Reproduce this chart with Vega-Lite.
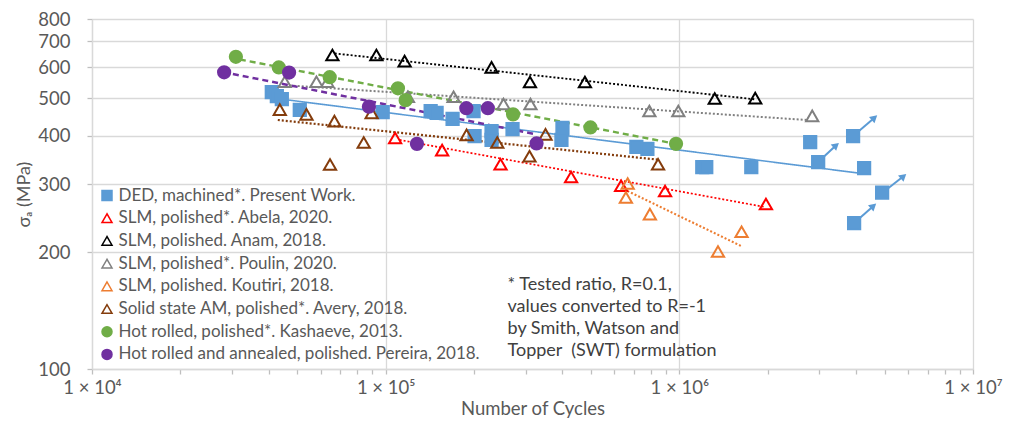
{
  "$schema": "https://vega.github.io/schema/vega-lite/v6.json",
  "width": 881,
  "height": 350,
  "autosize": "none",
  "padding": {"left": 92, "top": 19, "right": 43, "bottom": 56},
  "background": "white",
  "config": {"view": {"stroke": null}, "font": "Lato"},
  "datasets": {
    "points": [
      {"s": "DED, machined*. Present Work.", "N": 40950, "S": 518},
      {"s": "DED, machined*. Present Work.", "N": 42600, "S": 506},
      {"s": "DED, machined*. Present Work.", "N": 44300, "S": 497},
      {"s": "DED, machined*. Present Work.", "N": 51000, "S": 466},
      {"s": "DED, machined*. Present Work.", "N": 97700, "S": 460},
      {"s": "DED, machined*. Present Work.", "N": 142300, "S": 463},
      {"s": "DED, machined*. Present Work.", "N": 149100, "S": 458},
      {"s": "DED, machined*. Present Work.", "N": 169000, "S": 442},
      {"s": "DED, machined*. Present Work.", "N": 199200, "S": 463},
      {"s": "DED, machined*. Present Work.", "N": 200800, "S": 399},
      {"s": "DED, machined*. Present Work.", "N": 229400, "S": 411},
      {"s": "DED, machined*. Present Work.", "N": 229400, "S": 390},
      {"s": "DED, machined*. Present Work.", "N": 270400, "S": 416},
      {"s": "DED, machined*. Present Work.", "N": 400000, "S": 419},
      {"s": "DED, machined*. Present Work.", "N": 396800, "S": 390},
      {"s": "DED, machined*. Present Work.", "N": 714000, "S": 374},
      {"s": "DED, machined*. Present Work.", "N": 778500, "S": 370},
      {"s": "DED, machined*. Present Work.", "N": 1197000, "S": 332},
      {"s": "DED, machined*. Present Work.", "N": 1235000, "S": 332},
      {"s": "DED, machined*. Present Work.", "N": 1758000, "S": 332},
      {"s": "DED, machined*. Present Work.", "N": 2790000, "S": 385},
      {"s": "DED, machined*. Present Work.", "N": 2970000, "S": 342},
      {"s": "DED, machined*. Present Work.", "N": 3906000, "S": 399},
      {"s": "DED, machined*. Present Work.", "N": 3937000, "S": 238},
      {"s": "DED, machined*. Present Work.", "N": 4258000, "S": 330},
      {"s": "DED, machined*. Present Work.", "N": 4904000, "S": 285},
      {"s": "SLM, polished*. Abela, 2020.", "N": 107700, "S": 394.5},
      {"s": "SLM, polished*. Abela, 2020.", "N": 155700, "S": 367},
      {"s": "SLM, polished*. Abela, 2020.", "N": 246100, "S": 337.5},
      {"s": "SLM, polished*. Abela, 2020.", "N": 428000, "S": 313},
      {"s": "SLM, polished*. Abela, 2020.", "N": 633500, "S": 297},
      {"s": "SLM, polished*. Abela, 2020.", "N": 894000, "S": 288},
      {"s": "SLM, polished*. Abela, 2020.", "N": 1972000, "S": 266.5},
      {"s": "SLM, polished. Anam, 2018.", "N": 65860, "S": 646},
      {"s": "SLM, polished. Anam, 2018.", "N": 92980, "S": 646},
      {"s": "SLM, polished. Anam, 2018.", "N": 116000, "S": 623},
      {"s": "SLM, polished. Anam, 2018.", "N": 229400, "S": 600},
      {"s": "SLM, polished. Anam, 2018.", "N": 310000, "S": 550},
      {"s": "SLM, polished. Anam, 2018.", "N": 477000, "S": 550},
      {"s": "SLM, polished. Anam, 2018.", "N": 1320000, "S": 499},
      {"s": "SLM, polished. Anam, 2018.", "N": 1813000, "S": 500},
      {"s": "SLM, polished*. Poulin, 2020.", "N": 45330, "S": 551},
      {"s": "SLM, polished*. Poulin, 2020.", "N": 58110, "S": 551},
      {"s": "SLM, polished*. Poulin, 2020.", "N": 63340, "S": 551},
      {"s": "SLM, polished*. Poulin, 2020.", "N": 119100, "S": 504},
      {"s": "SLM, polished*. Poulin, 2020.", "N": 170300, "S": 504},
      {"s": "SLM, polished*. Poulin, 2020.", "N": 251900, "S": 483},
      {"s": "SLM, polished*. Poulin, 2020.", "N": 311200, "S": 483},
      {"s": "SLM, polished*. Poulin, 2020.", "N": 790700, "S": 463},
      {"s": "SLM, polished*. Poulin, 2020.", "N": 992000, "S": 463},
      {"s": "SLM, polished*. Poulin, 2020.", "N": 2835000, "S": 450},
      {"s": "SLM, polished. Koutiri, 2018.", "N": 667000, "S": 301},
      {"s": "SLM, polished. Koutiri, 2018.", "N": 657700, "S": 277},
      {"s": "SLM, polished. Koutiri, 2018.", "N": 793800, "S": 251},
      {"s": "SLM, polished. Koutiri, 2018.", "N": 1629000, "S": 226},
      {"s": "SLM, polished. Koutiri, 2018.", "N": 1354000, "S": 201},
      {"s": "Solid state AM, polished*. Avery, 2018.", "N": 43600, "S": 467},
      {"s": "Solid state AM, polished*. Avery, 2018.", "N": 53740, "S": 454},
      {"s": "Solid state AM, polished*. Avery, 2018.", "N": 66910, "S": 436},
      {"s": "Solid state AM, polished*. Avery, 2018.", "N": 64640, "S": 337},
      {"s": "Solid state AM, polished*. Avery, 2018.", "N": 84190, "S": 384},
      {"s": "Solid state AM, polished*. Avery, 2018.", "N": 89600, "S": 458},
      {"s": "Solid state AM, polished*. Avery, 2018.", "N": 188600, "S": 402},
      {"s": "Solid state AM, polished*. Avery, 2018.", "N": 239900, "S": 384},
      {"s": "Solid state AM, polished*. Avery, 2018.", "N": 308900, "S": 354},
      {"s": "Solid state AM, polished*. Avery, 2018.", "N": 350200, "S": 403},
      {"s": "Solid state AM, polished*. Avery, 2018.", "N": 846300, "S": 337.5},
      {"s": "Hot rolled, polished*. Kashaeve, 2013.", "N": 30900, "S": 639},
      {"s": "Hot rolled, polished*. Kashaeve, 2013.", "N": 43260, "S": 600},
      {"s": "Hot rolled, polished*. Kashaeve, 2013.", "N": 64490, "S": 566},
      {"s": "Hot rolled, polished*. Kashaeve, 2013.", "N": 110100, "S": 530},
      {"s": "Hot rolled, polished*. Kashaeve, 2013.", "N": 116950, "S": 494},
      {"s": "Hot rolled, polished*. Kashaeve, 2013.", "N": 271500, "S": 454},
      {"s": "Hot rolled, polished*. Kashaeve, 2013.", "N": 498100, "S": 420},
      {"s": "Hot rolled, polished*. Kashaeve, 2013.", "N": 974500, "S": 381},
      {"s": "Hot rolled and annealed, polished. Pereira, 2018.", "N": 28180, "S": 583},
      {"s": "Hot rolled and annealed, polished. Pereira, 2018.", "N": 46890, "S": 582},
      {"s": "Hot rolled and annealed, polished. Pereira, 2018.", "N": 87690, "S": 475},
      {"s": "Hot rolled and annealed, polished. Pereira, 2018.", "N": 127800, "S": 381},
      {"s": "Hot rolled and annealed, polished. Pereira, 2018.", "N": 188200, "S": 471},
      {"s": "Hot rolled and annealed, polished. Pereira, 2018.", "N": 222800, "S": 471},
      {"s": "Hot rolled and annealed, polished. Pereira, 2018.", "N": 326300, "S": 382}
    ],
    "trends": [
      {"k": "DED", "N": 44650, "S": 496.5},
      {"k": "DED", "N": 4064000, "S": 320.4},
      {"k": "Abela", "N": 111600, "S": 390},
      {"k": "Abela", "N": 1946000, "S": 262},
      {"k": "Anam", "N": 67060, "S": 652},
      {"k": "Anam", "N": 1828000, "S": 496},
      {"k": "Poulin", "N": 47150, "S": 539},
      {"k": "Poulin", "N": 2725000, "S": 439},
      {"k": "Koutiri", "N": 665500, "S": 288},
      {"k": "Koutiri", "N": 1625000, "S": 207.6},
      {"k": "Avery", "N": 42920, "S": 439},
      {"k": "Avery", "N": 841600, "S": 347},
      {"k": "Kashaeve", "N": 31880, "S": 629},
      {"k": "Kashaeve", "N": 939300, "S": 383},
      {"k": "Pereira", "N": 30180, "S": 577},
      {"k": "Pereira", "N": 321300, "S": 404}
    ],
    "arrows": [
      {"N": 2970000, "S": 342, "N2": 3420000, "S2": 377.7},
      {"N": 3906000, "S": 399, "N2": 4618000, "S2": 445},
      {"N": 3937000, "S": 238, "N2": 4582000, "S2": 263.4},
      {"N": 4904000, "S": 284.5, "N2": 5799000, "S2": 314.2}
    ],
    "heads": [
      {"N": 3420000, "S": 377.7},
      {"N": 4618000, "S": 445},
      {"N": 4582000, "S": 263.4},
      {"N": 5799000, "S": 314.2}
    ],
    "notes": [
      {"t": "* Tested ratio, R=0.1,", "N": 260000, "S": 164.7},
      {"t": "values converted to R=-1", "N": 260000, "S": 144.8},
      {"t": "by Smith, Watson and", "N": 260000, "S": 126.8},
      {"t": "Topper\u00a0 (SWT) formulation", "N": 260000, "S": 111.5}
    ]
  },
  "encoding": {
    "x": {
      "field": "N", "type": "quantitative", "title": "Number of Cycles",
      "scale": {"type": "log", "domain": [10000, 10000000], "nice": false},
      "axis": {
        "values": [10000, 20000, 30000, 40000, 50000, 60000, 70000, 80000, 90000, 100000, 200000, 300000, 400000, 500000, 600000, 700000, 800000, 900000, 1000000, 2000000, 3000000, 4000000, 5000000, 6000000, 7000000, 8000000, 9000000, 10000000],
        "labelExpr": "abs(log(datum.value)/LN10 - round(log(datum.value)/LN10)) < 0.001 ? '1 × 10' + ['⁰','¹','²','³','⁴','⁵','⁶','⁷','⁸'][round(log(datum.value)/LN10)] : ''",
        "labelFlush": false, "labelOverlap": false,
        "labelFont": "Lato", "labelFontSize": 18.5, "labelColor": "#595959", "labelPadding": 4,
        "grid": true,
        "gridColor": {"condition": {"test": "abs(log(datum.value)/LN10 - round(log(datum.value)/LN10)) < 0.001", "value": "#D9D9D9"}, "value": "rgba(0,0,0,0)"},
        "gridWidth": 1.3,
        "domainColor": "#D9D9D9", "domainWidth": 1.3,
        "tickColor": "#BFBFBF", "tickSize": 5, "tickWidth": 1.3,
        "titleFont": "Lato", "titleFontSize": 18.5, "titleFontWeight": "normal", "titleColor": "#595959", "titlePadding": 3
      }
    },
    "y": {
      "field": "S", "type": "quantitative", "title": "σₐ (MPa)",
      "scale": {"type": "log", "domain": [100, 800], "nice": false},
      "axis": {
        "values": [100, 200, 300, 400, 500, 600, 700, 800],
        "format": "d",
        "labelFont": "Lato", "labelFontSize": 18.5, "labelColor": "#595959", "labelPadding": 17,
        "grid": true, "gridColor": "#D9D9D9", "gridWidth": 1.3,
        "domainColor": "#D9D9D9", "domainWidth": 1.3,
        "tickColor": "#BFBFBF", "tickSize": 5, "tickWidth": 1.3,
        "titleFont": "Lato", "titleFontSize": 18, "titleFontWeight": "normal", "titleColor": "#595959", "titlePadding": 4
      }
    }
  },
  "layer": [
    {
      "data": {"name": "trends"},
      "mark": {"type": "line"},
      "encoding": {
        "detail": {"field": "k", "type": "nominal"},
        "color": {"field": "k", "type": "nominal", "legend": null,
          "scale": {"domain": ["DED", "Abela", "Anam", "Poulin", "Koutiri", "Avery", "Kashaeve", "Pereira"],
            "range": ["#5B9BD5", "#FF0000", "#000000", "#808080", "#ED7D31", "#843C0C", "#70AD47", "#7030A0"]}},
        "strokeDash": {"field": "k", "type": "nominal", "legend": null,
          "scale": {"domain": ["DED", "Abela", "Anam", "Poulin", "Koutiri", "Avery", "Kashaeve", "Pereira"],
            "range": [[1, 0], [2, 2], [2, 2], [2, 2], [2, 2], [2, 2], [6, 4], [6, 4]]}},
        "strokeWidth": {"field": "k", "type": "nominal", "legend": null,
          "scale": {"domain": ["DED", "Abela", "Anam", "Poulin", "Koutiri", "Avery", "Kashaeve", "Pereira"],
            "range": [1.6, 2.5, 2.5, 2.5, 2.5, 2.5, 2, 2]}}
      }
    },
    {
      "data": {"name": "arrows"},
      "mark": {"type": "rule", "color": "#5B9BD5", "strokeWidth": 2},
      "encoding": {
        "x2": {"field": "N2"},
        "y2": {"field": "S2"}
      }
    },
    {
      "data": {"name": "heads"},
      "mark": {"type": "point", "shape": "triangle-up", "angle": 49, "size": 70, "filled": true, "color": "#5B9BD5", "opacity": 1}
    },
    {
      "data": {"name": "points"},
      "mark": {"type": "point", "size": 150, "strokeWidth": 2, "opacity": 1},
      "encoding": {
        "shape": {"field": "s", "type": "nominal",
          "scale": {"domain": ["DED, machined*. Present Work.", "SLM, polished*. Abela, 2020.", "SLM, polished. Anam, 2018.", "SLM, polished*. Poulin, 2020.", "SLM, polished. Koutiri, 2018.", "Solid state AM, polished*. Avery, 2018.", "Hot rolled, polished*. Kashaeve, 2013.", "Hot rolled and annealed, polished. Pereira, 2018."],
            "range": ["square", "triangle-up", "triangle-up", "triangle-up", "triangle-up", "triangle-up", "circle", "circle"]},
          "legend": {"title": null, "orient": "none", "legendX": 6.5, "legendY": 168, "labelFont": "Lato", "labelFontSize": 17, "labelColor": "#595959", "symbolSize": 100, "symbolStrokeWidth": 1.5, "rowPadding": 4.7, "labelOffset": 3, "labelLimit": 600}},
        "fill": {"field": "s", "type": "nominal",
          "scale": {"domain": ["DED, machined*. Present Work.", "SLM, polished*. Abela, 2020.", "SLM, polished. Anam, 2018.", "SLM, polished*. Poulin, 2020.", "SLM, polished. Koutiri, 2018.", "Solid state AM, polished*. Avery, 2018.", "Hot rolled, polished*. Kashaeve, 2013.", "Hot rolled and annealed, polished. Pereira, 2018."],
            "range": ["#5B9BD5", "rgba(0,0,0,0)", "rgba(0,0,0,0)", "rgba(0,0,0,0)", "rgba(0,0,0,0)", "rgba(0,0,0,0)", "#70AD47", "#7030A0"]}},
        "stroke": {"field": "s", "type": "nominal",
          "scale": {"domain": ["DED, machined*. Present Work.", "SLM, polished*. Abela, 2020.", "SLM, polished. Anam, 2018.", "SLM, polished*. Poulin, 2020.", "SLM, polished. Koutiri, 2018.", "Solid state AM, polished*. Avery, 2018.", "Hot rolled, polished*. Kashaeve, 2013.", "Hot rolled and annealed, polished. Pereira, 2018."],
            "range": ["#5B9BD5", "#FF0000", "#000000", "#808080", "#ED7D31", "#843C0C", "#70AD47", "#7030A0"]}}
      }
    },
    {
      "data": {"name": "notes"},
      "mark": {"type": "text", "align": "left", "baseline": "middle", "font": "Lato", "fontSize": 18, "color": "#404040"},
      "encoding": {"text": {"field": "t", "type": "nominal"}}
    }
  ]
}
